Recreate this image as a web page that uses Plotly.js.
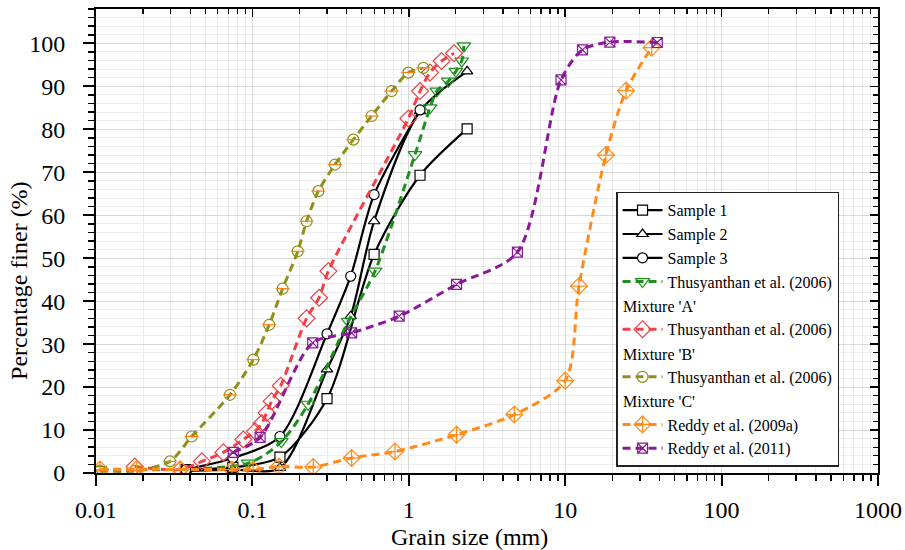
<!DOCTYPE html>
<html>
<head>
<meta charset="utf-8">
<script src="https://cdn.plot.ly/plotly-3.0.1.min.js"></script>
<style>html,body{margin:0;padding:0;background:#fff;}#chart{width:905px;height:550px;}</style>
</head>
<body>
<div id="chart"></div>
<script>
// ---- data (grain size in mm, percentage finer in %) ----
const sample1X = [0.0375, 0.075, 0.15, 0.3, 0.6, 1.18, 2.36];
const sample1Y = [0.8, 1.3, 3.7, 17.3, 50.9, 69.3, 80.1];
const sample2X = [0.0375, 0.075, 0.15, 0.3, 0.425, 0.6, 1.18, 2.36];
const sample2Y = [0.5, 0.8, 1.2, 24.1, 36.5, 58.6, 84.2, 93.5];
const sample3X = [0.0375, 0.075, 0.15, 0.3, 0.425, 0.6, 1.18];
const sample3Y = [0.8, 3.5, 8.5, 32.4, 45.8, 64.8, 84.5];

const thusAX = [0.0106, 0.094, 0.153, 0.227, 0.41, 0.608, 1.095, 1.366, 1.51, 1.79, 2.0, 2.18, 2.25];
const thusAY = [0.8, 2.3, 7.3, 16.0, 35.3, 47.0, 74.1, 85.0, 88.9, 91.2, 93.5, 95.9, 99.4];
const thusBX = [0.0177, 0.0345, 0.0475, 0.0652, 0.0875, 0.104, 0.1147, 0.1233, 0.1326, 0.1517, 0.222, 0.267, 0.306, 0.993, 1.18, 1.366, 1.62, 1.945];
const thusBY = [1.5, 0.8, 2.7, 4.8, 7.8, 9.7, 11.6, 14.0, 16.7, 20.3, 36.0, 40.8, 47.0, 82.5, 88.9, 93.2, 95.9, 97.7];
const thusCX = [0.0106, 0.0177, 0.0297, 0.0409, 0.0719, 0.1014, 0.128, 0.156, 0.195, 0.222, 0.264, 0.3375, 0.442, 0.579, 0.777, 0.993, 1.239];
const thusCY = [0.5, 0.5, 2.7, 8.5, 18.2, 26.4, 34.5, 42.9, 51.6, 58.6, 65.6, 71.8, 77.6, 83.1, 88.9, 93.2, 94.3];
const reddy09X = [0.0106, 0.0182, 0.0345, 0.074, 0.101, 0.148, 0.245, 0.431, 0.816, 2.02, 4.73, 10.0, 12.25, 18.2, 24.5, 35.7];
const reddy09Y = [0.8, 0.9, 0.8, 0.8, 0.8, 1.5, 1.4, 3.5, 5.0, 8.9, 13.6, 21.5, 43.5, 74.0, 89.0, 99.0];
const reddy11X = [0.0755, 0.112, 0.243, 0.431, 0.869, 2.02, 4.95, 9.4, 12.9, 19.3, 38.8];
const reddy11Y = [4.8, 8.3, 30.3, 32.6, 36.5, 43.9, 51.4, 91.5, 98.5, 100.3, 100.2];

const seriesNames = ['Sample 1', 'Sample 2', 'Sample 3',
  'Thusyanthan et al. (2006)', 'Thusyanthan et al. (2006)', 'Thusyanthan et al. (2006)',
  'Reddy et al. (2009a)', 'Reddy et al. (2011)'];
const mixtureLabels = ["Mixture 'A'", "Mixture 'B'", "Mixture 'C'"];
const xTitle = 'Grain size (mm)';
const yTitle = 'Percentage finer (%)';

const xTickVals = [0.01, 0.1, 1, 10, 100, 1000];
const xTickText = ['0.01', '0.1', '1', '10', '100', '1000'];
const yTickVals = [0, 10, 20, 30, 40, 50, 60, 70, 80, 90, 100];

// ---- styles ----
const FONT = 'Liberation Serif';
const LEG_FS = 16;
const cGreen = '#1f8f1f', cRed = '#f04048', cOlive = '#8f8f1a', cOrange = '#ff8c1a', cPurple = '#8a1a9a';
const DASH = '8px,5px';

function sampleTrace(x, y, name, symbol, rank) {
  return {x: x, y: y, name: name, type: 'scatter', mode: 'lines+markers',
    line: {color: '#000', width: 2.2, shape: 'spline', smoothing: 0.8},
    marker: {symbol: symbol, size: 10, color: '#fff', line: {color: '#000', width: 1.2}},
    legendrank: rank};
}
function dashTrace(x, y, name, color, symbol, size, rank) {
  return {x: x, y: y, name: name, type: 'scatter', mode: 'lines+markers',
    line: {color: color, width: 3, dash: DASH, shape: 'spline', smoothing: 0.8},
    marker: {symbol: symbol, size: size, color: color, line: {color: color, width: 1.2}},
    legendrank: rank};
}
function spacer(rank) {
  return {x: [null], y: [null], name: ' ', type: 'scatter', mode: 'lines',
    line: {color: 'rgba(0,0,0,0)', width: 0}, hoverinfo: 'skip', legendrank: rank};
}

const traces = [
  sampleTrace(sample1X, sample1Y, seriesNames[0], 'square', 1),
  sampleTrace(sample2X, sample2Y, seriesNames[1], 'triangle-up', 2),
  sampleTrace(sample3X, sample3Y, seriesNames[2], 'circle', 3),
  dashTrace(thusAX, thusAY, seriesNames[3], cGreen, 'triangle-down-open', 12, 4),
  spacer(5),
  dashTrace(thusBX, thusBY, seriesNames[4], cRed, 'diamond-open', 13, 6),
  spacer(7),
  dashTrace(thusCX, thusCY, seriesNames[5], cOlive, 'circle-open', 11, 8),
  spacer(9),
  dashTrace(reddy09X, reddy09Y, seriesNames[6], cOrange, 'diamond-cross-open', 13, 10),
  dashTrace(reddy11X, reddy11Y, seriesNames[7], cPurple, 'square-x-open', 10, 11),
  // horizontal bar inside the olive circles
  {x: thusCX, y: thusCY, type: 'scatter', mode: 'markers', showlegend: false, hoverinfo: 'skip',
   xaxis: 'x2', yaxis: 'y2',
   marker: {symbol: 'line-ew-open', size: 10, line: {color: cOlive, width: 1.2}}}
];

// axis titles (placed as in the original figure, slightly off-centre)
const titleAnns = [
  {text: xTitle, xref: 'paper', yref: 'paper', x: 0.477, y: -0.138, xanchor: 'center', yanchor: 'middle',
   showarrow: false, font: {family: FONT, size: 24, color: '#000'}},
  {text: yTitle, xref: 'paper', yref: 'paper', x: -0.0985, y: 0.416, xanchor: 'center', yanchor: 'middle',
   textangle: -90, showarrow: false, font: {family: FONT, size: 24, color: '#000'}}
];

const layout = {
  width: 905, height: 550,
  margin: {l: 96, r: 27, t: 9, b: 77},
  paper_bgcolor: '#fff', plot_bgcolor: '#fff',
  font: {family: FONT, color: '#000'},
  showlegend: true,
  xaxis: {
    type: 'log', range: [-2, 3],
    showline: true, linecolor: '#000', linewidth: 2, zeroline: false,
    tickmode: 'array', tickvals: xTickVals, ticktext: xTickText,
    tickfont: {family: FONT, size: 24, color: '#000'}, ticklabelstandoff: 3,
    ticks: 'outside', ticklen: 11, tickwidth: 2, tickcolor: '#000',
    showgrid: true, gridcolor: '#d9d9d9', gridwidth: 1,
    minor: {ticks: 'outside', ticklen: 6, tickwidth: 1.5, tickcolor: '#000', dtick: 'D1',
            showgrid: true, gridcolor: '#ececec', gridwidth: 1}
  },
  yaxis: {
    range: [0, 108],
    showline: true, linecolor: '#000', linewidth: 2, zeroline: false,
    tickmode: 'array', tickvals: yTickVals,
    tickfont: {family: FONT, size: 24, color: '#000'}, ticklabelstandoff: 13,
    ticks: 'outside', ticklen: 11, tickwidth: 2, tickcolor: '#000',
    showgrid: true, gridcolor: '#d9d9d9', gridwidth: 1,
    minor: {ticks: 'outside', ticklen: 6, tickwidth: 1.5, tickcolor: '#000', dtick: 2,
            showgrid: true, gridcolor: '#ececec', gridwidth: 1}
  },
  xaxis2: {
    type: 'log', range: [-2, 3], overlaying: 'x', side: 'top', anchor: 'y2',
    showline: true, linecolor: '#000', linewidth: 2,
    ticks: 'inside', ticklen: 8, tickwidth: 1.5, tickcolor: '#000',
    tickmode: 'array', tickvals: xTickVals, showticklabels: false,
    minor: {ticks: 'inside', ticklen: 5, tickwidth: 1.2, tickcolor: '#000', dtick: 'D1', showgrid: false},
    showgrid: false, zeroline: false
  },
  yaxis2: {
    range: [0, 108], overlaying: 'y', side: 'right', anchor: 'x2',
    showline: true, linecolor: '#000', linewidth: 2,
    ticks: 'inside', ticklen: 8, tickwidth: 1.5, tickcolor: '#000',
    tickmode: 'array', tickvals: yTickVals, showticklabels: false,
    minor: {ticks: 'inside', ticklen: 5, tickwidth: 1.2, tickcolor: '#000', dtick: 2, showgrid: false},
    showgrid: false, zeroline: false
  },
  legend: {
    x: 0.665, y: 0.606, xanchor: 'left', yanchor: 'top',
    bgcolor: '#fff', bordercolor: '#222', borderwidth: 1.5,
    font: {family: FONT, size: LEG_FS, color: '#000'},
    itemwidth: 40, tracegroupgap: 0, traceorder: 'normal'
  },
  annotations: titleAnns
};

const gd = document.getElementById('chart');
Plotly.newPlot(gd, traces, layout, {staticPlot: true, displayModeBar: false}).then(function () {
  // place the "Mixture" second lines in the empty legend rows, flush with the legend's left edge
  const sz = gd._fullLayout._size;
  const items = gd.querySelectorAll('.legend .traces');
  const bg = gd.querySelector('.legend .bg').getBoundingClientRect();
  function cy(i) { const r = items[i].querySelector('.legendtext').getBoundingClientRect(); return r.top + r.height / 2; }
  const pairs = [[3, 5], [5, 7], [7, 9]];
  const anns = pairs.map(function (p, k) {
    const yc = (cy(p[0]) + cy(p[1])) / 2;
    return {text: mixtureLabels[k], xref: 'paper', yref: 'paper',
      x: (bg.left + 4 - sz.l) / sz.w, y: 1 - (yc - sz.t) / sz.h,
      xanchor: 'left', yanchor: 'middle', showarrow: false,
      font: {family: FONT, size: LEG_FS, color: '#000'}};
  });
  return Plotly.relayout(gd, {annotations: titleAnns.concat(anns)});
});
</script>
</body>
</html>
